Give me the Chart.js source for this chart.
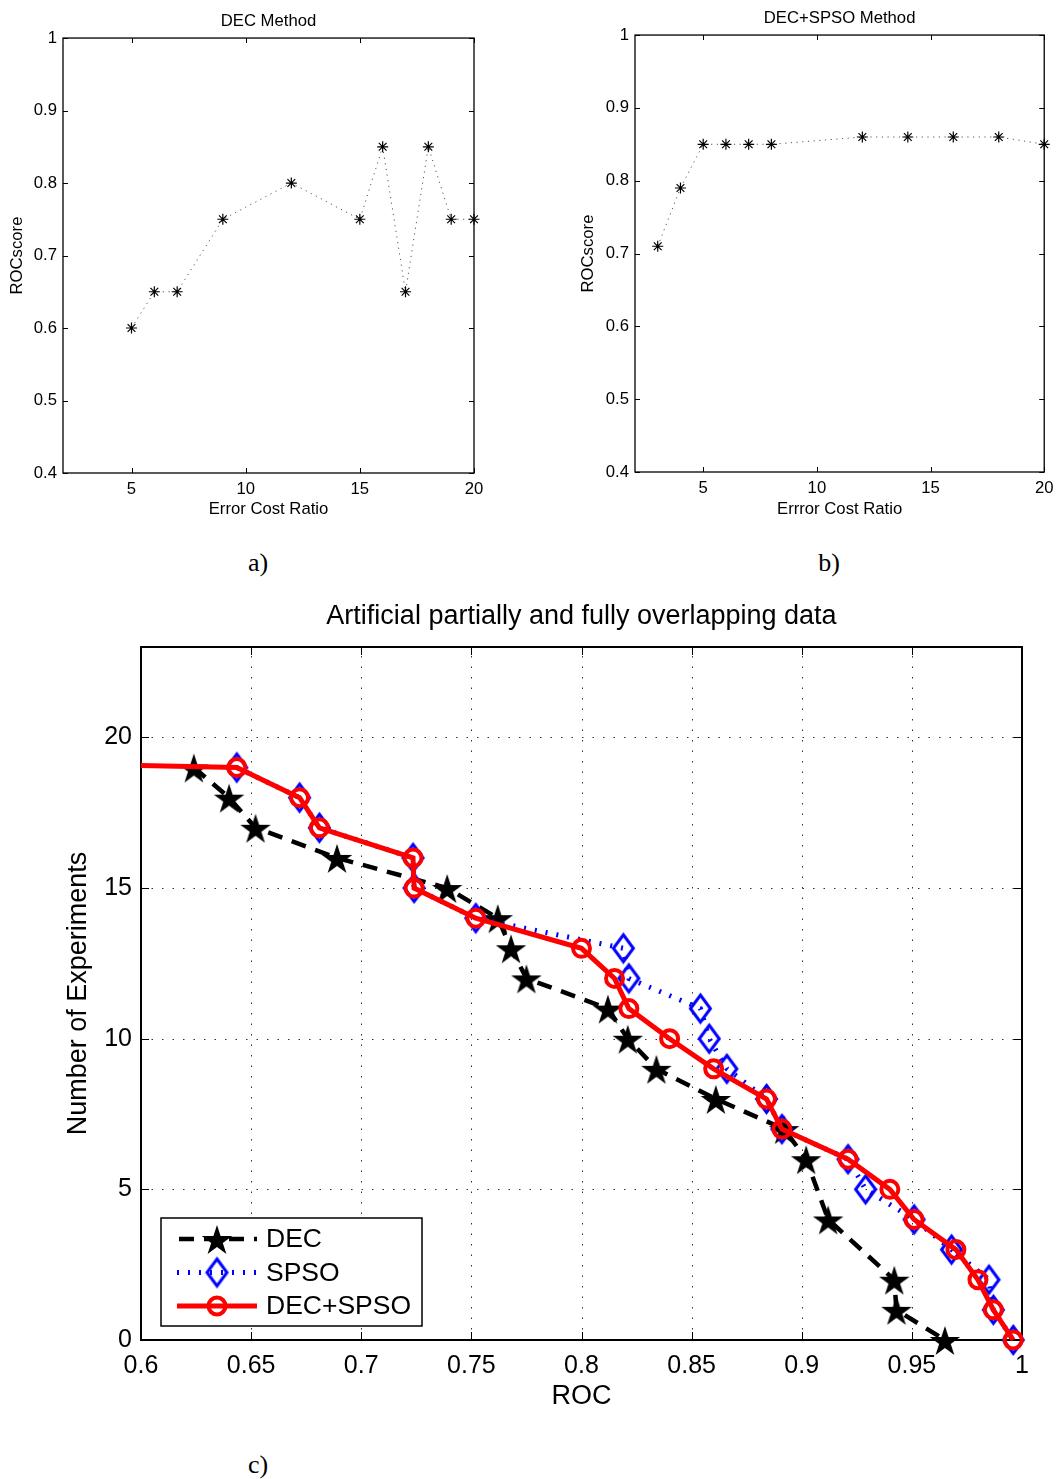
<!DOCTYPE html>
<html>
<head>
<meta charset="utf-8">
<script src="https://cdn.jsdelivr.net/npm/chart.js@4.4.0/dist/chart.umd.min.js"></script>
<style>
  body { margin: 0; background: #fff; width: 1057px; height: 1479px; position: relative; overflow: hidden; }
  canvas { position: absolute; }
  .cap { position: absolute; width: 60px; text-align: center; font-family: "Liberation Serif", "Times New Roman", serif; font-size: 26px; color: #000; }
</style>
</head>
<body>
<canvas id="chartA" width="529" height="530" style="left:0;top:0"></canvas>
<canvas id="chartB" width="531" height="530" style="left:529px;top:0"></canvas>
<canvas id="chartC" width="1057" height="840" style="left:0;top:580px"></canvas>
<div class="cap" style="left:228px;top:548px">a)</div>
<div class="cap" style="left:799px;top:548px">b)</div>
<div class="cap" style="left:228px;top:1450px">c)</div>

<script>
// a) DEC method: ROC score per error cost ratio
const ratioA = [5, 6, 7, 9, 12, 15, 16, 17, 18, 19, 20];
const rocA = [0.60, 0.65, 0.65, 0.75, 0.80, 0.75, 0.85, 0.65, 0.85, 0.75, 0.75];

// b) DEC+SPSO method
const ratioB = [3, 4, 5, 6, 7, 8, 12, 14, 16, 18, 20];
const rocB = [0.71, 0.79, 0.85, 0.85, 0.85, 0.85, 0.86, 0.86, 0.86, 0.86, 0.85];

const ratioTicks = [5, 10, 15, 20];
const scoreTicks = [0.4, 0.5, 0.6, 0.7, 0.8, 0.9, 1];
const scoreLabels = ['0.4', '0.5', '0.6', '0.7', '0.8', '0.9', '1'];

// c) number of experiments vs ROC
const countDEC = [19, 18, 17, 16, 15, 14, 13, 12, 11, 10, 9, 8, 7, 6, 4, 2, 1, 0];
const rocDEC = [0.624, 0.640, 0.652, 0.689, 0.739, 0.762, 0.768, 0.775, 0.812, 0.821,
                0.834, 0.861, 0.892, 0.902, 0.912, 0.942, 0.943, 0.965];

const countSPSO = [19, 18, 17, 16, 15, 14, 13, 12, 11, 10, 9, 8, 7, 6, 5, 4, 3, 2, 1, 0];
const rocSPSO = [0.6435, 0.672, 0.681, 0.7235, 0.724, 0.752, 0.819, 0.8215, 0.854, 0.858,
                 0.866, 0.884, 0.891, 0.921, 0.929, 0.951, 0.968, 0.985, 0.987, 0.996];

const countHybrid = [19.23, 19, 18, 17, 16, 15, 14, 13, 12, 11, 10, 9, 8, 7, 6, 5, 4, 3, 2, 1, 0];
const rocHybrid = [0.50, 0.6435, 0.672, 0.681, 0.7235, 0.724, 0.752, 0.800, 0.815, 0.8215, 0.840,
                   0.860, 0.884, 0.891, 0.921, 0.940, 0.951, 0.970, 0.980, 0.987, 0.996];

const rocTicks = [0.6, 0.65, 0.7, 0.75, 0.8, 0.85, 0.9, 0.95, 1];
const rocLabels = ['0.6', '0.65', '0.7', '0.75', '0.8', '0.85', '0.9', '0.95', '1'];
const countTicks = [0, 5, 10, 15, 20];

Chart.defaults.font.family = '"Liberation Sans", Arial, Helvetica, sans-serif';
Chart.defaults.color = '#000';
Chart.defaults.animation = false;

const pts = (xs, ys) => xs.map((x, i) => ({ x: x, y: ys[i] }));
const setTicks = vals => scale => { scale.ticks = vals.map(v => ({ value: v })); };

// box, inward ticks on all four sides and optional dotted grid
const framePlugin = {
  id: 'frame',
  beforeDatasetsDraw(chart, args, opts) {
    const { ctx, chartArea: a, scales: { x, y } } = chart;
    const seg = (x1, y1, x2, y2) => { ctx.beginPath(); ctx.moveTo(x1, y1); ctx.lineTo(x2, y2); ctx.stroke(); };
    ctx.save();
    if (opts.grid) {
      ctx.strokeStyle = '#333';
      ctx.lineWidth = 1;
      ctx.setLineDash([1.5, 9]);
      x.ticks.forEach(t => {
        const px = Math.round(x.getPixelForValue(t.value)) + 0.5;
        if (px > a.left + 2 && px < a.right - 2) seg(px, a.bottom, px, a.top);
      });
      y.ticks.forEach(t => {
        const py = Math.round(y.getPixelForValue(t.value)) + 0.5;
        if (py > a.top + 2 && py < a.bottom - 2) seg(a.left, py, a.right, py);
      });
      ctx.setLineDash([]);
    }
    ctx.strokeStyle = '#000';
    ctx.lineWidth = 1;
    const tl = opts.tick;
    x.ticks.forEach(t => {
      const px = Math.round(x.getPixelForValue(t.value)) + 0.5;
      seg(px, a.bottom, px, a.bottom - tl);
      seg(px, a.top, px, a.top + tl);
    });
    y.ticks.forEach(t => {
      const py = Math.round(y.getPixelForValue(t.value)) + 0.5;
      seg(a.left, py, a.left + tl, py);
      seg(a.right, py, a.right - tl, py);
    });
    ctx.lineWidth = opts.width;
    ctx.strokeRect(a.left, a.top, a.right - a.left, a.bottom - a.top);
    ctx.restore();
  }
};

// legend box in the lower left corner of the plot
const keyPlugin = {
  id: 'key',
  afterDraw(chart, args, opts) {
    if (!opts.show) return;
    const { ctx, chartArea: a } = chart;
    const x0 = a.left + opts.left, y0 = a.bottom - opts.bottom - opts.height;
    ctx.save();
    ctx.fillStyle = '#fff';
    ctx.fillRect(x0, y0, opts.width, opts.height);
    ctx.strokeStyle = '#000';
    ctx.lineWidth = 1.5;
    ctx.strokeRect(x0, y0, opts.width, opts.height);
    chart.data.datasets.forEach((ds, i) => {
      const cy = y0 + opts.rowTop + i * opts.rowGap;
      ctx.strokeStyle = ds.borderColor;
      ctx.lineWidth = ds.borderWidth;
      ctx.setLineDash(ds.borderDash || []);
      ctx.lineDashOffset = ds.keyDashOffset || 0;
      ctx.beginPath();
      ctx.moveTo(x0 + 16, cy);
      ctx.lineTo(x0 + 96, cy);
      ctx.stroke();
      ctx.setLineDash([]);
      ctx.fillStyle = ds.pointBackgroundColor;
      ctx.strokeStyle = ds.pointBorderColor;
      ctx.lineWidth = ds.pointBorderWidth;
      Chart.helpers.drawPoint(ctx, { pointStyle: ds.pointStyle, radius: ds.pointRadius, borderWidth: ds.pointBorderWidth, rotation: 0 }, x0 + 56, cy);
      ctx.fillStyle = '#000';
      ctx.font = '26.5px "Liberation Sans", Arial, sans-serif';
      ctx.textBaseline = 'middle';
      ctx.textAlign = 'left';
      ctx.fillText(ds.label, x0 + 105, cy + 1);
    });
    ctx.restore();
  }
};

Chart.register(framePlugin, keyPlugin);

// marker images: filled pentagram and tall hollow diamond
function starMarker(R, color) {
  const c = document.createElement('canvas');
  c.width = c.height = Math.ceil(2 * R + 4);
  const g = c.getContext('2d');
  const m = c.width / 2, r = R * 0.382;
  g.beginPath();
  for (let k = 0; k < 10; k++) {
    const ang = -Math.PI / 2 + k * Math.PI / 5;
    const rr = k % 2 ? r : R;
    g[k ? 'lineTo' : 'moveTo'](m + rr * Math.cos(ang), m + 2 + rr * Math.sin(ang));
  }
  g.closePath();
  g.fillStyle = color;
  g.fill();
  return c;
}

function diamondMarker(hw, hh, lw, color) {
  const c = document.createElement('canvas');
  c.width = Math.ceil(2 * hw + lw + 4);
  c.height = Math.ceil(2 * hh + lw + 4);
  const g = c.getContext('2d');
  const cx = c.width / 2, cy = c.height / 2;
  g.beginPath();
  g.moveTo(cx, cy - hh);
  g.lineTo(cx + hw, cy);
  g.lineTo(cx, cy + hh);
  g.lineTo(cx - hw, cy);
  g.closePath();
  g.strokeStyle = color;
  g.lineWidth = lw;
  g.stroke();
  return c;
}

function costChart(id, xs, ys, title, xTitle, geo) {
  new Chart(document.getElementById(id), {
    type: 'line',
    data: {
      datasets: [{
        data: pts(xs, ys),
        borderColor: '#555',
        borderWidth: 1,
        borderDash: [1.2, 4.5],
        pointStyle: 'star',
        pointRadius: 5.5,
        pointBorderWidth: 1.2,
        pointBorderColor: '#000',
        pointBackgroundColor: '#000',
        clip: false
      }]
    },
    options: {
      responsive: false,
      events: [],
      layout: { padding: { left: 0, top: 0, right: geo.right, bottom: 0 } },
      plugins: {
        legend: { display: false },
        tooltip: { enabled: false },
        title: { display: true, text: title, fullSize: false, font: { size: 16.7, weight: 'normal' }, padding: { top: geo.titleTop, bottom: geo.titleBottom } },
        frame: { tick: 5, width: 1.3 },
        key: { show: false }
      },
      scales: {
        x: {
          type: 'linear', min: 2, max: 20,
          afterBuildTicks: setTicks(ratioTicks),
          afterFit: s => { s.height = geo.xHeight; },
          grid: { display: false, drawTicks: false },
          border: { display: false },
          ticks: { font: { size: 16.7 }, padding: 6.5, maxRotation: 0 },
          title: { display: true, text: xTitle, font: { size: 16.7 }, padding: { top: 0, bottom: 11 } }
        },
        y: {
          min: 0.4, max: 1,
          afterBuildTicks: setTicks(scoreTicks),
          afterFit: s => { s.width = geo.yWidth; },
          grid: { display: false, drawTicks: false },
          border: { display: false },
          ticks: { font: { size: 16.7 }, padding: 6, callback: (v, i) => scoreLabels[i] },
          title: { display: true, text: 'ROCscore', font: { size: 16.7 }, padding: { top: geo.yTitleTop, bottom: 0 } }
        }
      }
    }
  });
}

costChart('chartA', ratioA, rocA, 'DEC Method', 'Error Cost Ratio',
  { right: 55, titleTop: 11, titleBottom: 7, xHeight: 57, yWidth: 63, yTitleTop: 7.4 });
costChart('chartB', ratioB, rocB, 'DEC+SPSO Method', 'Errror Cost Ratio',
  { right: 13, titleTop: 8, titleBottom: 7, xHeight: 58, yWidth: 106, yTitleTop: 49.4 });

new Chart(document.getElementById('chartC'), {
  type: 'line',
  data: {
    datasets: [
      {
        label: 'DEC',
        data: pts(rocDEC, countDEC),
        borderColor: '#000',
        borderWidth: 4.5,
        borderDash: [15, 10],
        keyDashOffset: -2,
        pointStyle: starMarker(16, '#000'),
        pointRadius: 16,
        pointBorderWidth: 0,
        pointBackgroundColor: '#000',
        pointBorderColor: '#000',
        order: 3,
        clip: false
      },
      {
        label: 'SPSO',
        data: pts(rocSPSO, countSPSO),
        borderColor: '#0000ff',
        borderWidth: 5,
        borderDash: [2, 9],
        pointStyle: diamondMarker(10, 13.5, 3, '#0000ff'),
        pointRadius: 14,
        pointBorderWidth: 0,
        pointBackgroundColor: '#0000ff',
        pointBorderColor: '#0000ff',
        order: 2,
        clip: false
      },
      {
        label: 'DEC+SPSO',
        data: pts(rocHybrid, countHybrid),
        borderColor: '#ff0000',
        borderWidth: 5,
        pointStyle: 'circle',
        pointRadius: 8.5,
        pointBorderWidth: 4,
        pointBackgroundColor: 'rgba(0,0,0,0)',
        pointBorderColor: '#ff0000',
        order: 1,
        clip: { left: 0, top: 20, right: 20, bottom: 20 }
      }
    ]
  },
  options: {
    responsive: false,
    events: [],
    layout: { padding: { left: 0, top: 0, right: 35, bottom: 0 } },
    plugins: {
      legend: { display: false },
      tooltip: { enabled: false },
      title: { display: true, text: 'Artificial partially and fully overlapping data', fullSize: false, font: { size: 27, weight: 'normal' }, padding: { top: 20.8, bottom: 13.8 } },
      frame: { tick: 8, width: 2, grid: true },
      key: { show: true, left: 20, bottom: 14, width: 261, height: 108, rowTop: 21, rowGap: 33.5 }
    },
    scales: {
      x: {
        type: 'linear', min: 0.6, max: 1,
        afterBuildTicks: setTicks(rocTicks),
        afterFit: s => { s.height = 80; },
        grid: { display: false, drawTicks: false },
        border: { display: false },
        ticks: { font: { size: 25 }, padding: 11, maxRotation: 0, callback: (v, i) => rocLabels[i] },
        title: { display: true, text: 'ROC', font: { size: 27 }, padding: { top: 0, bottom: 6.8 } }
      },
      y: {
        min: 0, max: 23,
        afterBuildTicks: setTicks(countTicks),
        afterFit: s => { s.width = 141; },
        grid: { display: false, drawTicks: false },
        border: { display: false },
        ticks: { font: { size: 25 }, padding: 9 },
        title: { display: true, text: 'Number of Experiments', font: { size: 27 }, padding: { top: 62.8, bottom: 0 } }
      }
    }
  }
});
</script>
</body>
</html>
